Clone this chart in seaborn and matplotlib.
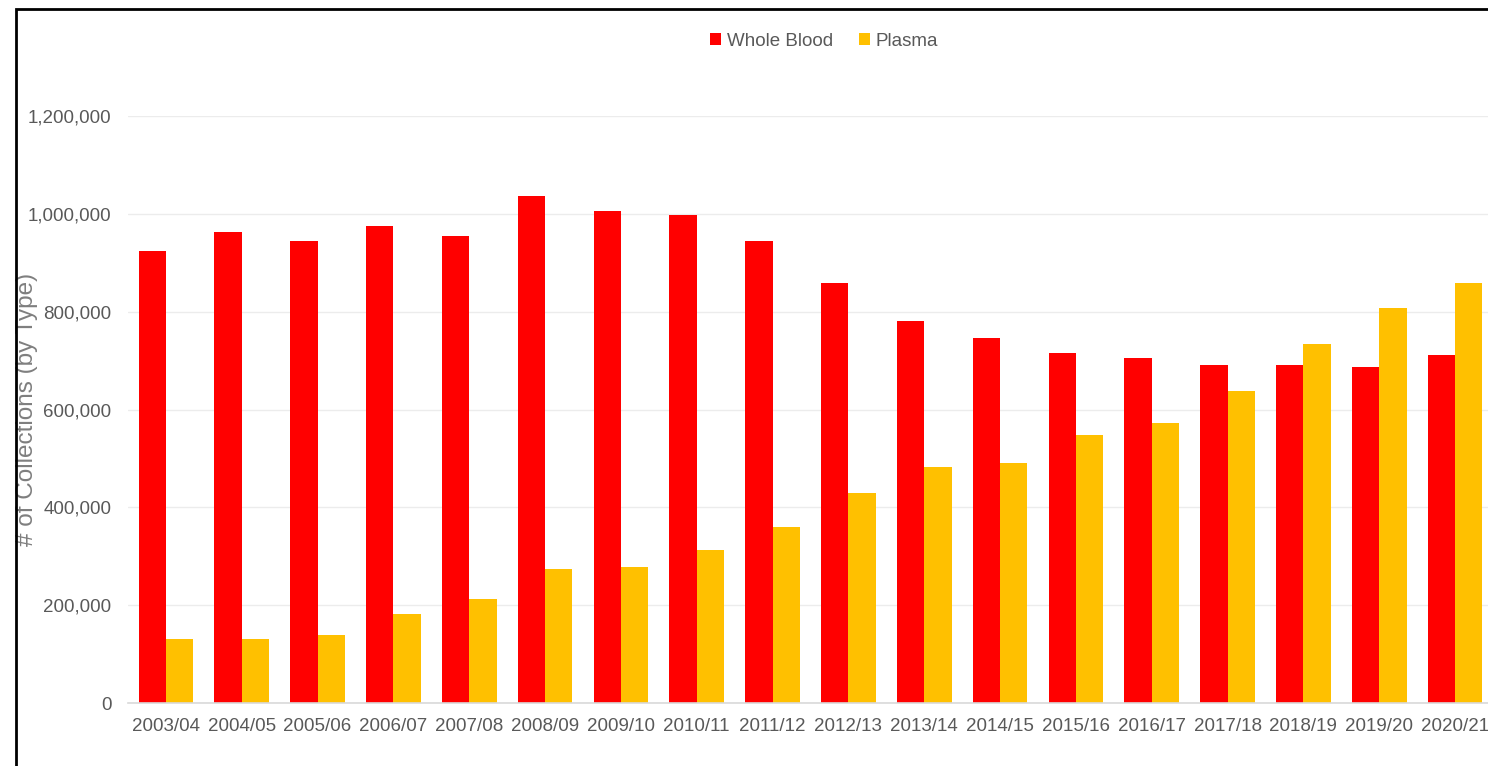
import matplotlib
matplotlib.use("Agg")
import matplotlib.pyplot as plt
from matplotlib.patches import Rectangle
from matplotlib.ticker import FuncFormatter
import seaborn as sns
import pandas as pd

years = ["2003/04", "2004/05", "2005/06", "2006/07", "2007/08", "2008/09",
         "2009/10", "2010/11", "2011/12", "2012/13", "2013/14", "2014/15",
         "2015/16", "2016/17", "2017/18", "2018/19", "2019/20", "2020/21"]
whole_blood = [924000, 963000, 945000, 975000, 955000, 1037000,
               1006000, 998000, 945000, 859000, 781000, 746000,
               716000, 705000, 691000, 691000, 687000, 712000]
plasma = [131000, 131000, 139000, 182000, 213000, 274000,
          278000, 313000, 360000, 429000, 483000, 491000,
          548000, 573000, 638000, 734000, 808000, 859000]
series_names = ["Whole Blood", "Plasma"]
series_colors = ["#FF0000", "#FFC000"]

df = pd.DataFrame({
    "Year": years * 2,
    "Type": [series_names[0]] * len(years) + [series_names[1]] * len(years),
    "Collections": whole_blood + plasma,
})

sns.set_theme(style="white")
plt.rcParams["font.family"] = ["Liberation Sans", "DejaVu Sans"]

W, H = 1488, 766
fig = plt.figure(figsize=(W / 100, H / 100), dpi=100)
ax = fig.add_axes([128 / W, 1 - 703 / H, (1493 - 128) / W, (703 - 116) / H])

sns.barplot(data=df, x="Year", y="Collections", hue="Type",
            palette=series_colors, width=0.72, saturation=1,
            edgecolor="none", linewidth=0, ax=ax)

ax.set_ylim(0, 1200000)
ax.set_xlim(-0.5, len(years) - 0.5)
ax.set_yticks(range(0, 1200001, 200000))
ax.yaxis.set_major_formatter(FuncFormatter(lambda v, p: f"{int(v):,}"))
ax.grid(axis="y", color="#ececec", linewidth=1)
ax.set_axisbelow(True)
for side in ["top", "right", "left"]:
    ax.spines[side].set_visible(False)
ax.spines["bottom"].set_color("#d9d9d9")
ax.spines["bottom"].set_linewidth(1.2)

tick_color = "#595959"
ax.tick_params(axis="both", length=0, labelsize=13.5, labelcolor=tick_color)
ax.tick_params(axis="y", pad=12)
ax.tick_params(axis="x", pad=11)
ax.set_xlabel("")
ax.set_ylabel("# of Collections (by Type)", fontsize=17.5, color="#7f7f7f")
ax.yaxis.set_label_coords((38 - 128) / (1493 - 128), 0.5)

handles, labels = ax.get_legend_handles_labels()
ax.legend(handles, labels, loc="center", bbox_to_anchor=(824 / W, 1 - 41 / H),
          bbox_transform=fig.transFigure, ncol=2, frameon=False,
          handlelength=0.6, handleheight=0.6, handletextpad=0.3,
          columnspacing=1.4, fontsize=13.5, labelcolor=tick_color)

# outer frame around the chart area
fig.add_artist(Rectangle((16 / W, -0.1), 1.2, 1 - 9 / H + 0.1,
                         transform=fig.transFigure, fill=False,
                         edgecolor="black", linewidth=2))

fig.savefig("out.png", dpi=100)
